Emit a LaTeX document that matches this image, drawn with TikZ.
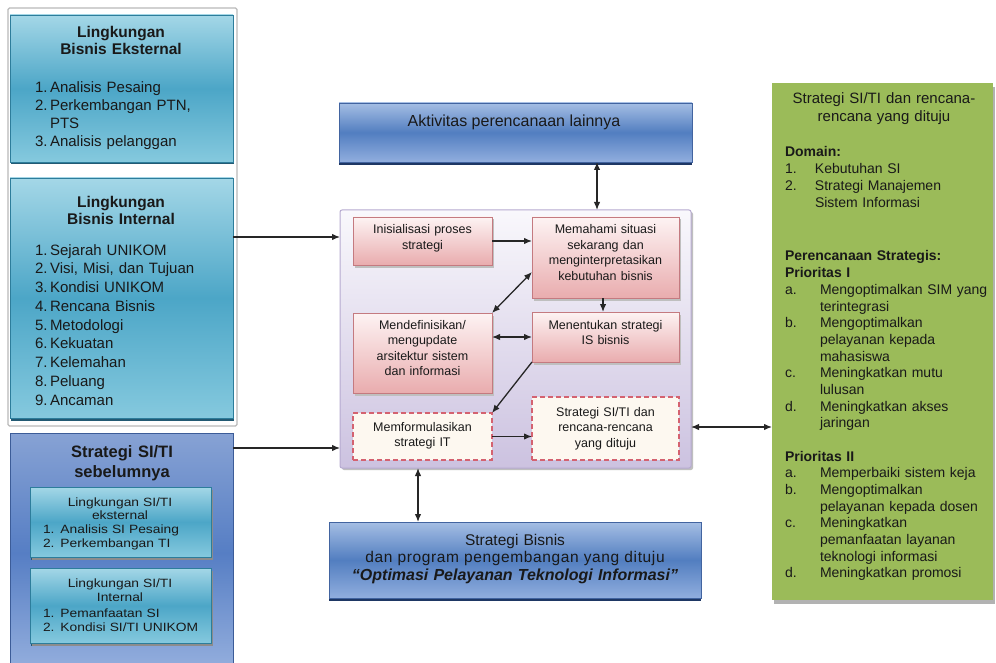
\documentclass[tikz,border=0pt]{standalone}
\usepackage{fontspec}
\setmainfont{Liberation Sans}
\newfontfamily\widesans[FakeStretch=1.15]{Liberation Sans}
\usetikzlibrary{arrows.meta,shadows,calc}

\definecolor{tealA}{RGB}{164,215,231}
\definecolor{tealB}{RGB}{76,166,199}
\definecolor{tealC}{RGB}{133,201,222}
\definecolor{tealD}{RGB}{45,125,155}
\definecolor{tealE}{RGB}{35,90,115}
\definecolor{periA}{RGB}{135,162,212}
\definecolor{periB}{RGB}{86,126,196}
\definecolor{periC}{RGB}{150,176,222}
\definecolor{periD}{RGB}{60,92,152}
\definecolor{blueA}{RGB}{165,190,228}
\definecolor{blueB}{RGB}{82,126,192}
\definecolor{blueC}{RGB}{145,174,222}
\definecolor{blueD}{RGB}{66,100,160}
\definecolor{navy}{RGB}{30,55,100}
\definecolor{lavA}{RGB}{249,248,252}
\definecolor{lavB}{RGB}{204,194,224}
\definecolor{lavD}{RGB}{182,170,208}
\definecolor{pinkA}{RGB}{253,243,243}
\definecolor{pinkB}{RGB}{233,172,174}
\definecolor{pinkD}{RGB}{196,122,128}
\definecolor{cream}{RGB}{253,248,240}
\definecolor{dashred}{RGB}{212,98,112}
\definecolor{leaf}{RGB}{155,187,89}
\definecolor{ink}{RGB}{25,25,25}

\newcommand{\numi}[2]{\makebox[30pt][l]{#1}#2}
\newcommand{\leti}[2]{\makebox[35pt][l]{#1}#2}

\begin{document}
\begin{tikzpicture}[x=1pt,y=-1pt,
  every node/.style={inner sep=0pt, outer sep=0pt, text=ink},
  boxnw/.style={rectangle, anchor=north west},
  tealbox/.style={boxnw, draw=tealD, line width=0.9pt,
    top color=tealA, bottom color=tealC, middle color=tealB,
    general shadow={fill=tealE, shadow xshift=0.5pt, shadow yshift=-2.5pt}},
  tealin/.style={tealbox, general shadow={fill=black!45, shadow xshift=1.5pt, shadow yshift=-2.5pt}},
  peribox/.style={boxnw, draw=periD, line width=0.9pt,
    top color=periA, bottom color=periC, middle color=periB},
  bluebox/.style={boxnw, draw=blueD, line width=0.9pt,
    top color=blueA, bottom color=blueC, middle color=blueB,
    general shadow={fill=navy, shadow xshift=0pt, shadow yshift=-3pt}},
  lavbox/.style={boxnw, draw=lavD, line width=1pt, rounded corners=2pt,
    top color=lavA, bottom color=lavB,
    general shadow={fill=black!25, shadow xshift=2pt, shadow yshift=-2pt}},
  pinkbox/.style={boxnw, draw=pinkD, line width=0.9pt,
    top color=pinkA, bottom color=pinkB,
    general shadow={fill=black!25, shadow xshift=1.5pt, shadow yshift=-2.5pt}},
  dashbox/.style={boxnw, draw=dashred, line width=1.3pt, dash pattern=on 5pt off 3pt, fill=cream},
  greenbox/.style={boxnw, fill=leaf,
    general shadow={fill=black!30, shadow xshift=2pt, shadow yshift=-4pt}},
  ttl/.style={anchor=base, align=center, font=\bfseries\fontsize{15.5}{16.5}\selectfont},
  lst/.style={anchor=base west, align=left, font=\fontsize{15}{17.8}\selectfont},
  mid/.style={anchor=base, align=center, text width=140pt, font=\fontsize{12.5}{15.5}\selectfont},
  grn/.style={anchor=base west, align=left, text width=215pt, font=\fontsize{14}{16.7}\selectfont},
  arr/.style={-{Latex[length=8pt,width=6.5pt]}, line width=1.3pt, draw=black!85},
  darr/.style={{Latex[length=8pt,width=6.5pt]}-{Latex[length=8pt,width=6.5pt]}, line width=1.3pt, draw=black!85}
]
\useasboundingbox (0,0) rectangle (996,663);
\fill[white] (0,0) rectangle (996,663);

% ---------- left column ----------
\draw[gray!55, line width=1.4pt, rounded corners=1.5pt] (8,8) rectangle (237,426);

\node[tealbox, minimum width=223pt, minimum height=147pt] (ext) at (10,15) {};
\node[ttl, text width=210pt] (extT) at (121,38) {Lingkungan\\Bisnis Eksternal};
\node[lst, text width=195pt] (extL) at (35,93)
  {1.\,Analisis Pesaing\\2.\,Perkembangan PTN,\\\phantom{2.\,}PTS\\3.\,Analisis pelanggan};

\node[tealbox, minimum width=223pt, minimum height=240pt] (int) at (10,178) {};
\node[ttl, text width=210pt] (intT) at (121,208) {Lingkungan\\Bisnis Internal};
\node[lst, text width=195pt, font=\fontsize{15}{18.75}\selectfont] (intL) at (35,255)
  {1.\,Sejarah UNIKOM\\2.\,Visi, Misi, dan Tujuan\\3.\,Kondisi UNIKOM\\4.\,Rencana Bisnis\\
   5.\,Metodologi\\6.\,Kekuatan\\7.\,Kelemahan\\8.\,Peluang\\9.\,Ancaman};

\node[peribox, minimum width=223pt, minimum height=240pt] (prev) at (10,433) {};
\node[ttl, text width=210pt, font=\bfseries\fontsize{16.5}{20}\selectfont] (prevT) at (122,457)
  {Strategi SI/TI\\sebelumnya};

\node[tealin, minimum width=181pt, minimum height=70pt] (inA) at (30,487) {};
\node[anchor=base, align=center, text width=170pt, font=\widesans\fontsize{12}{13.7}\selectfont] (inAT) at (120,506)
  {Lingkungan SI/TI\\eksternal};
\node[anchor=base west, align=left, text width=165pt, font=\widesans\fontsize{12}{14}\selectfont] (inAL) at (43,533)
  {1. Analisis SI Pesaing\\2. Perkembangan TI};

\node[tealin, minimum width=181pt, minimum height=75pt] (inB) at (30,568) {};
\node[anchor=base, align=center, text width=170pt, font=\widesans\fontsize{12}{14}\selectfont] (inBT) at (120,587)
  {Lingkungan SI/TI\\Internal};
\node[anchor=base west, align=left, text width=165pt, font=\widesans\fontsize{12}{14}\selectfont] (inBL) at (43,617)
  {1. Pemanfaatan SI\\2. Kondisi SI/TI UNIKOM};

% ---------- top and bottom boxes ----------
\node[bluebox, minimum width=353pt, minimum height=59pt] (top) at (339,103) {};
\node[anchor=base, font=\fontsize{16}{18}\selectfont] (topT) at (514,127) {Aktivitas perencanaan lainnya};

\node[bluebox, minimum width=372pt, minimum height=76pt] (bot) at (329,522) {};
\node[anchor=base, align=center, text width=360pt, font=\fontsize{15.5}{17.5}\selectfont] (botT) at (515,545)
  {Strategi Bisnis\\{\addfontfeature{LetterSpace=4}dan program pengembangan yang dituju}\\
   {\bfseries\itshape\fontsize{16}{17.5}\selectfont “Optimasi Pelayanan Teknologi Informasi”}};

% ---------- central process ----------
\node[lavbox, minimum width=351pt, minimum height=258pt] (proc) at (340,210) {};

\node[pinkbox, minimum width=139pt, minimum height=48pt] (ini) at (353,217) {};
\node[mid] (iniT) at (422.5,234) {Inisialisasi proses\\strategi};

\node[pinkbox, minimum width=147pt, minimum height=81pt] (mem) at (532,217) {};
\node[mid] (memT) at (605.5,234) {Memahami situasi\\sekarang dan\\menginterpretasikan\\kebutuhan bisnis};

\node[pinkbox, minimum width=139pt, minimum height=80pt] (def) at (353,313) {};
\node[mid] (defT) at (422.5,329) {Mendefinisikan/\\mengupdate\\arsitektur sistem\\dan informasi};

\node[pinkbox, minimum width=147pt, minimum height=50pt] (ment) at (532,312) {};
\node[mid] (mentT) at (605.5,329) {Menentukan strategi\\IS bisnis};

\node[dashbox, minimum width=139pt, minimum height=47pt] (forml) at (353,413) {};
\node[mid] (formlT) at (422.5,431) {Memformulasikan\\strategi IT};

\node[dashbox, minimum width=147pt, minimum height=63pt] (tgt) at (532,397) {};
\node[mid] (tgtT) at (605.5,416) {Strategi SI/TI dan\\rencana-rencana\\yang dituju};

% ---------- right column ----------
\node[greenbox, minimum width=221pt, minimum height=517pt] (green) at (772,83) {};
\node[anchor=base, align=center, text width=210pt, font=\fontsize{15}{18}\selectfont] (greenT) at (884,104)
  {Strategi SI/TI dan rencana-\\rencana yang dituju};
\node[grn] (dom) at (785,157)
  {\textbf{Domain:}\\\numi{1.}{Kebutuhan SI}\\\numi{2.}{Strategi Manajemen}\\\numi{}{Sistem Informasi}};
\node[grn] (prio1) at (785,261)
  {\textbf{Perencanaan Strategis:}\\\textbf{Prioritas I}\\
   \leti{a.}{Mengoptimalkan SIM yang}\\\leti{}{terintegrasi}\\
   \leti{b.}{Mengoptimalkan}\\\leti{}{pelayanan kepada}\\\leti{}{mahasiswa}\\
   \leti{c.}{Meningkatkan mutu}\\\leti{}{lulusan}\\
   \leti{d.}{Meningkatkan akses}\\\leti{}{jaringan}};
\node[grn] (prio2) at (785,461)
  {\textbf{Prioritas II}\\
   \leti{a.}{Memperbaiki sistem keja}\\
   \leti{b.}{Mengoptimalkan}\\\leti{}{pelayanan kepada dosen}\\
   \leti{c.}{Meningkatkan}\\\leti{}{pemanfaatan layanan}\\\leti{}{teknologi informasi}\\
   \leti{d.}{Meningkatkan promosi}};

% ---------- connectors ----------
\coordinate (yA) at (0,237);
\coordinate (yB) at (0,448);
\coordinate (yR) at (0,427);
\coordinate (yD) at (0,272);
\coordinate (xT) at (597,0);
\coordinate (xB) at (418,0);
\coordinate (xM) at (603,0);

\draw[arr] (int.east |- yA) -- (proc.west |- yA);
\draw[arr] (prev.east |- yB) -- (proc.west |- yB);
\draw[darr] (top.south -| xT) -- (proc.north -| xT);
\draw[darr] (proc.south -| xB) -- (bot.north -| xB);
\draw[darr] (proc.east |- yR) -- (green.west |- yR);

\draw[arr] (ini.east) -- (mem.west |- ini.east);
\draw[arr] (mem.south -| xM) -- (ment.north -| xM);
\draw[darr] (mem.west |- yD) -- (def.north east);
\draw[darr] (def.east |- ment.west) -- (ment.west);
\draw[arr] (ment.south west) -- (forml.north east);
\draw[arr] (forml.east) -- (tgt.west |- forml.east);
\end{tikzpicture}
\end{document}
